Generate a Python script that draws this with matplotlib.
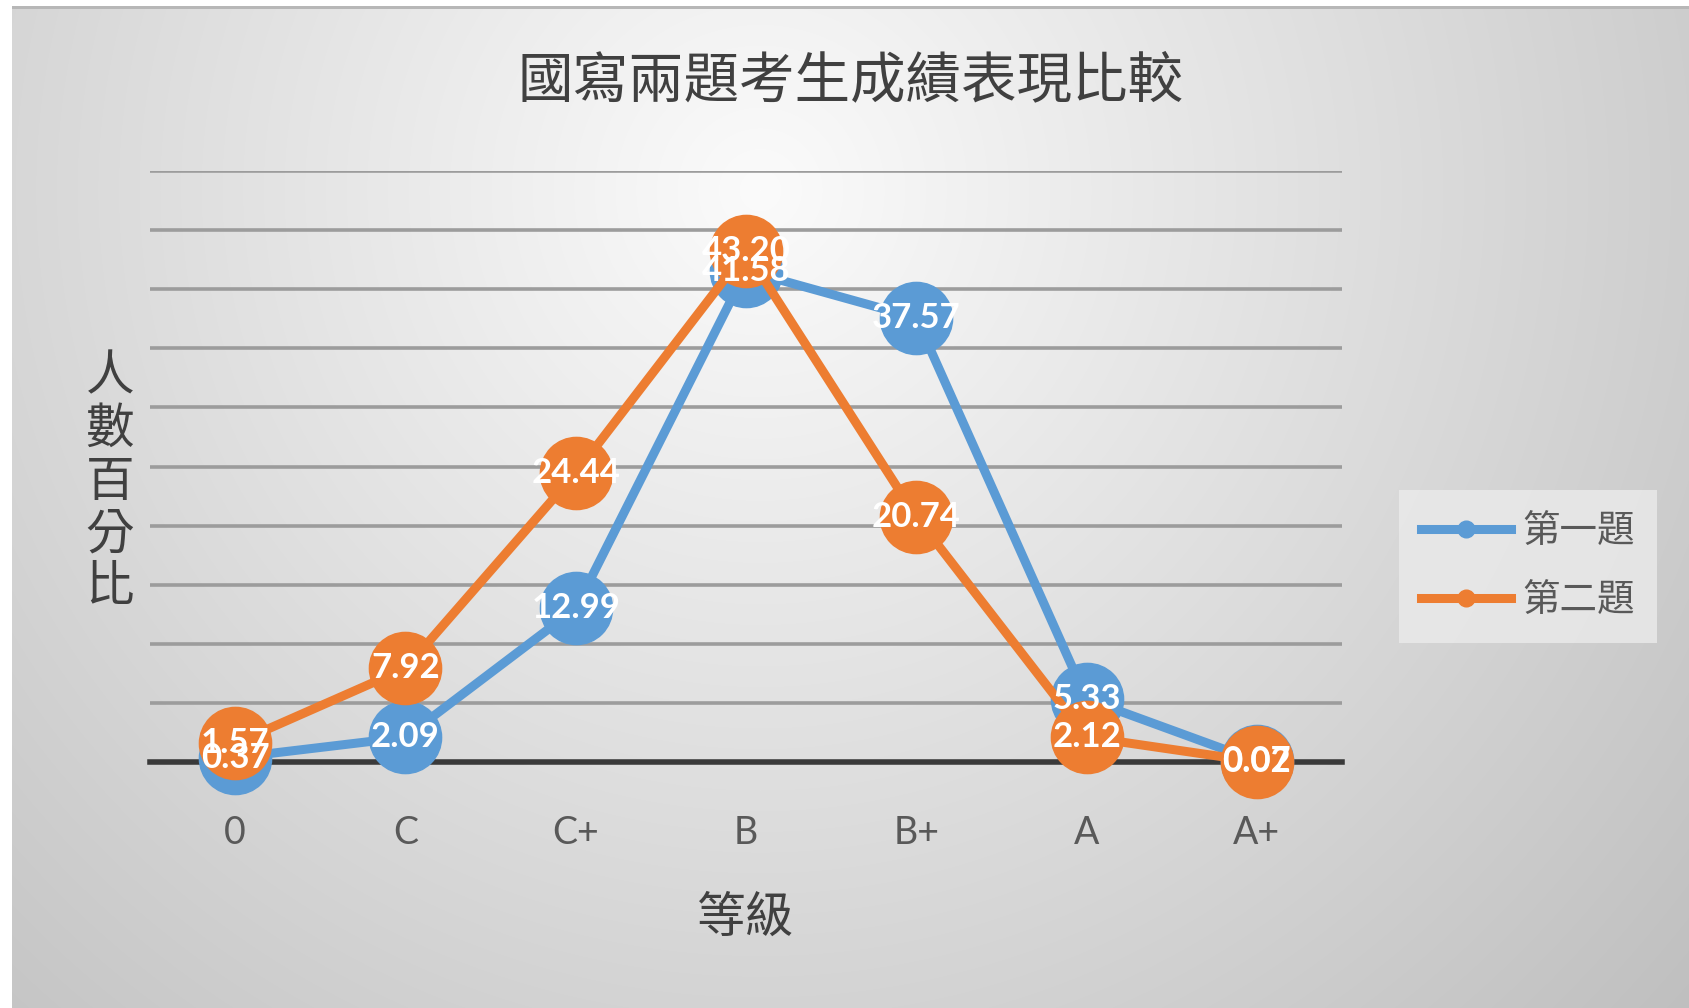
import numpy as np
import matplotlib
matplotlib.use("Agg")
import matplotlib.pyplot as plt
from matplotlib.lines import Line2D

plt.rcParams['font.family'] = ['Noto Sans CJK TC', 'DejaVu Sans']

# 資料
grades = ["0", "C", "C+", "B", "B+", "A", "A+"]
q1 = [0.37, 2.09, 12.99, 41.58, 37.57, 5.33, 0.07]
q2 = [1.57, 7.92, 24.44, 43.20, 20.74, 2.12, 0.02]
series_names = ["第一題", "第二題"]
colors = ["#5B9BD5", "#ED7D31"]

W, H = 1690, 1008
fig = plt.figure(figsize=(W / 100, H / 100), dpi=100)

# 背景漸層 (Excel 圖表區)
bg = fig.add_axes([0, 0, 1, 1])
yy, xx = np.mgrid[0:H, 0:W]
r = np.hypot(xx - 760, yy - 190)
g = np.clip(251 - 58 * (r / 1200.0), 180, 255) / 255.0
img = np.dstack([g, g, g])
img[:, :12] = 1.0
img[:6, :] = 1.0
img[6:9, 12:] = 0.72
bg.imshow(img, aspect='auto', extent=[0, 1, 0, 1], origin='upper')
bg.set_axis_off()

ax = fig.add_axes([150 / W, 1 - 762 / H, 1192 / W, 591 / H])
ax.patch.set_alpha(0)

x = np.arange(len(grades))
for vals, c, z in [(q1, colors[0], 3), (q2, colors[1], 4)]:
    ax.plot(x, vals, color=c, lw=6.5, marker='o', ms=52, mec=c, mfc=c,
            zorder=z, clip_on=False, solid_capstyle='round')

for vals in (q1, q2):
    for xi, v in zip(x, vals):
        ax.text(xi, v, f"{v:.2f}", ha='center', va='center', color='white',
                fontsize=25, fontweight='bold', family=['Lato', 'DejaVu Sans'],
                zorder=10, clip_on=False)

ax.set_xlim(-0.5, len(grades) - 0.5)
ax.set_ylim(0, 50)
ax.set_yticks(np.arange(5, 51, 5))
ax.yaxis.grid(True, color='#9c9c9c', lw=2.6, zorder=1)
ax.axhline(0, color='#3a3a3a', lw=4.0, zorder=2, clip_on=False)
ax.tick_params(axis='y', left=False, labelleft=False)
ax.set_xticks(x)
ax.set_xticklabels(grades, fontsize=27, color='#595959', family=['Lato', 'DejaVu Sans'])
ax.tick_params(axis='x', length=0, pad=38)
for s in ax.spines.values():
    s.set_visible(False)

fig.text(851 / W, 1 - 81 / H, "國寫兩題考生成績表現比較", ha='center', va='center',
         fontsize=40, color='#404040')
fig.text(110 / W, 1 - 482 / H, "\n".join("人數百分比"), ha='center', va='center',
         fontsize=35, color='#404040', linespacing=1.08)
fig.text(746 / W, 1 - 918 / H, "等級", ha='center', va='center',
         fontsize=35, color='#404040')

handles = [Line2D([], [], color=c, lw=6.5, marker='o', ms=12) for c in colors]
leg = fig.legend(handles, series_names, loc='center', bbox_to_anchor=(1528 / W, 1 - 566 / H),
                 fontsize=27, frameon=True, handlelength=2.4, labelspacing=0.8,
                 borderpad=0.6, handletextpad=0.3, labelcolor='#595959')
leg.get_frame().set_facecolor('#ebebeb')
leg.get_frame().set_alpha(0.8)
leg.get_frame().set_edgecolor('none')
leg.get_frame().set_boxstyle('square', pad=0)

fig.savefig("out.png", dpi=100)
